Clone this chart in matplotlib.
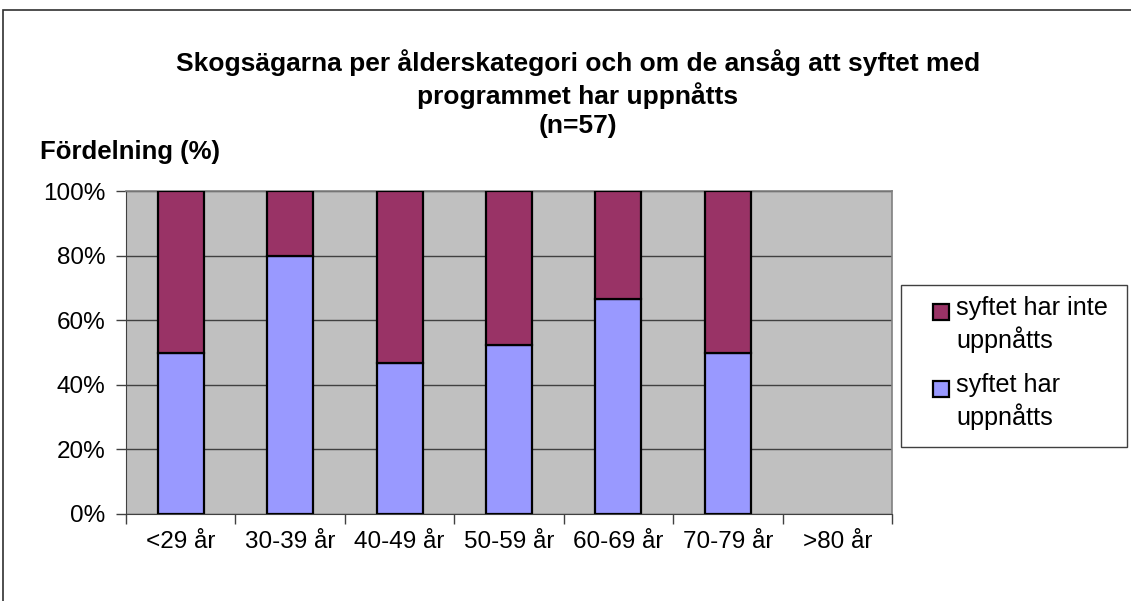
import numpy as np
import matplotlib.pyplot as plt
from matplotlib.patches import Rectangle

plt.rcParams['font.family'] = ['Liberation Sans', 'DejaVu Sans']

# --- Datos ---
kategorier = ["<29 år", "30-39 år", "40-49 år", "50-59 år", "60-69 år", "70-79 år", ">80 år"]
uppnatts = [50.0, 80.0, 46.7, 52.4, 66.7, 50.0, 0.0]
inte_uppnatts = [50.0, 20.0, 53.3, 47.6, 33.3, 50.0, 0.0]
serie_namn = ["syftet har inte\nuppnåtts", "syftet har\nuppnåtts"]
farger = ['#993366', '#9999FF']

W, H = 1131, 601
fig = plt.figure(figsize=(W / 100, H / 100), dpi=100)
ax = fig.add_axes([126 / W, 1 - 514 / H, (892 - 126) / W, (514 - 191) / H])

# yttre ram (höger- och underkant ligger utanför bilden)
fig.patches.append(Rectangle((3 / W, -0.05), 1.1, 1.05 - 10 / H, transform=fig.transFigure,
                             fill=False, edgecolor='#303030', linewidth=1.2))

x = np.arange(len(kategorier))
b1 = ax.bar(x, uppnatts, width=0.42, color=farger[1], edgecolor='black', linewidth=1.6, zorder=3)
b2 = ax.bar(x, inte_uppnatts, width=0.42, bottom=uppnatts, color=farger[0],
            edgecolor='black', linewidth=1.6, zorder=3)
# tomma staplar ska inte synas
for bars, vals in [(b1, uppnatts), (b2, inte_uppnatts)]:
    for r, v in zip(bars, vals):
        if v == 0:
            r.set_visible(False)

ax.set_facecolor('#C0C0C0')
ax.set_xlim(-0.5, len(kategorier) - 0.5)
ax.set_ylim(0, 100)
ax.set_yticks(np.arange(0, 101, 20))
ax.set_yticklabels([f"{v}%" for v in range(0, 101, 20)], fontsize=17.5)
ax.yaxis.grid(True, color='#404040', linewidth=1.0, zorder=1)
ax.set_xticks(x)
ax.set_xticklabels(kategorier, fontsize=17.5)
ax.set_xticks(np.arange(-0.5, len(kategorier)), minor=True)
ax.tick_params(axis='x', which='major', length=0, pad=12)
ax.tick_params(axis='x', which='minor', length=7, width=1, color='#404040')
ax.tick_params(axis='y', length=7, width=1, color='#404040', pad=8)

for s in ['top', 'right']:
    ax.spines[s].set_color('#808080')
    ax.spines[s].set_linewidth(1.2)
ax.spines['left'].set_color('#404040')
ax.spines['bottom'].set_color('#404040')

fig.text(578 / W, 1 - 94 / H, "Skogsägarna per ålderskategori och om de ansåg att syftet med\n"
         "programmet har uppnåtts\n(n=57)", ha='center', va='center',
         fontsize=19, fontweight='bold', linespacing=1.27)
fig.text(40 / W, 1 - 152 / H, "Fördelning (%)", ha='left', va='center',
         fontsize=18.5, fontweight='bold')

# legend, ritad för hand så att rutan ligger vid första raden
fig.patches.append(Rectangle((901 / W, 1 - 447 / H), (1127 - 901) / W, (447 - 285) / H,
                             transform=fig.transFigure, facecolor='white',
                             edgecolor='#404040', linewidth=1.0))
for i, (namn, farg) in enumerate(zip(serie_namn, farger)):
    y0 = 308 + i * 77
    fig.patches.append(Rectangle((933 / W, 1 - (y0 + 12) / H), 16 / W, 16 / H,
                                 transform=fig.transFigure, facecolor=farg,
                                 edgecolor='black', linewidth=1.6))
    fig.text(956 / W, 1 - (y0 - 12) / H, namn, ha='left', va='top',
             fontsize=18.2, linespacing=1.3)

fig.savefig("out.png", dpi=100)
